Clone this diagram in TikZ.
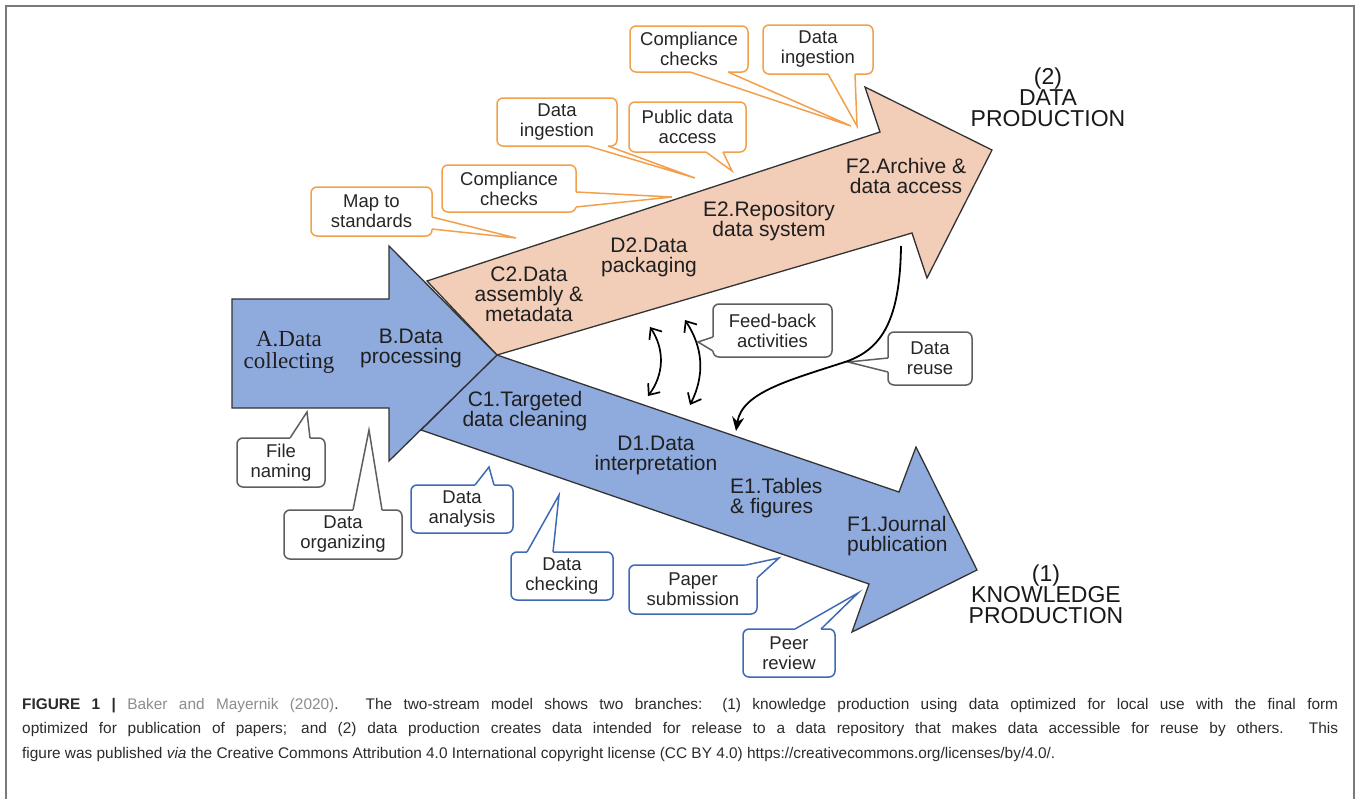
\documentclass[tikz,border=0pt]{standalone}
\usepackage{fontspec}
\setmainfont{Liberation Sans}
\newfontfamily\timesf{Liberation Serif}
\usetikzlibrary{arrows.meta,calc}
\definecolor{bandblue}{HTML}{8FAADC}
\definecolor{peach}{HTML}{F2CDB8}
\definecolor{edgec}{HTML}{333333}
\definecolor{oc}{HTML}{F2A04B}
\definecolor{bc}{HTML}{3D6AB3}
\definecolor{gc}{HTML}{5E5E5E}
\definecolor{capgray}{HTML}{8C8C8C}
\definecolor{captext}{HTML}{2B2B2B}
\definecolor{framec}{HTML}{7A7A7A}
% callout tail: colour, base1, base2, tip, inward shift
\newcommand\ctail[5]{%
  \fill[white] ($#2+#5$) -- #2 -- #4 -- #3 -- ($#3+#5$) -- cycle;
  \draw[#1, line width=1.5pt, line join=miter] #2 -- #4 -- #3;}
\begin{document}
\begin{tikzpicture}[x=1pt,y=-1pt,
  cbox/.style={draw, fill=white, rounded corners=6pt, line width=1.5pt, inner sep=0pt,
    align=center, font=\fontsize{18.5}{20}\selectfont, text=black!85},
  band/.style={align=center, font=\fontsize{21}{20}\selectfont, text=black!88, inner sep=0pt},
  outlab/.style={align=center, font=\fontsize{23}{21}\selectfont, text=black!90, inner sep=0pt},
  shapeedge/.style={draw=edgec, line width=1.3pt, line join=miter},
  fbarrow/.style={line width=1.7pt, {Straight Barb[length=9pt,width=15pt]}-{Straight Barb[length=9pt,width=15pt]}},
  reuse/.style={line width=1.8pt, -{Stealth[length=14pt,width=12pt]}}]
\useasboundingbox (0,0) rectangle (1360,798);
% frame
\draw[framec, line width=1.5pt] (6,6) rectangle (1354,810);

% data production band (peach)
\filldraw[fill=peach, shapeedge] (427,281) -- (880,132) -- (865,87) -- (992,150) -- (927,278) -- (912,233) -- (497,355) -- cycle;
% knowledge production band (blue)
\filldraw[fill=bandblue, shapeedge] (497,355) -- (899,492) -- (916,447) -- (977,570) -- (852,632) -- (869,584) -- (421,430) -- cycle;
% A-B arrow
\filldraw[fill=bandblue, shapeedge] (232,299) -- (389,299) -- (389,246) -- (497,355) -- (389,461) -- (389,408) -- (232,408) -- cycle;

% band labels
\node[inner sep=0pt, align=center, font=\timesf\fontsize{23}{22}\selectfont, text=black!88] (la) at (289,352) {A.Data\\collecting};
\node[band] (lb) at (411,348) {B.Data\\processing};
\node[band] (lc2) at (529,294) {C2.Data\\assembly \&\\metadata};
\node[band] (ld2) at (649,257) {D2.Data\\packaging};
\node[band] (le2) at (769,221) {E2.Repository\\data system};
\node[band] (lf2) at (906,176) {F2.Archive \&\\data access};
\node[band] (lc1) at (525,411) {C1.Targeted\\data cleaning};
\node[band] (ld1) at (656,455) {D1.Data\\interpretation};
\node[band, align=left, anchor=west] (le1) at (730,498) {E1.Tables\\\& figures};
\node[band, align=left, anchor=west] (lf1) at (847,536) {F1.Journal\\publication};

% outside labels
\node[outlab] (dp) at (1048,97) {(2)\\DATA\\PRODUCTION};
\node[outlab] (kp) at (1046,594) {(1)\\KNOWLEDGE\\PRODUCTION};

% orange callouts
\node[cbox, draw=oc, minimum width=118pt, minimum height=46pt] (o1) at (689,49) {Compliance\\checks};
\ctail{oc}{(690,72)}{(728,72)}{(851,126)}{(0,-3)}
\node[cbox, draw=oc, minimum width=110pt, minimum height=49pt] (o2) at (818,49.5) {Data\\ingestion};
\ctail{oc}{(828,74)}{(855,74)}{(857,126)}{(0,-3)}
\node[cbox, draw=oc, minimum width=120pt, minimum height=48pt] (o3) at (557,122) {Data\\ingestion};
\ctail{oc}{(588,146)}{(608,146)}{(695,178)}{(0,-3)}
\node[cbox, draw=oc, minimum width=117pt, minimum height=50pt] (o4) at (687.5,127) {Public data\\access};
\ctail{oc}{(706,152)}{(723,152)}{(732,171)}{(0,-3)}
\node[cbox, draw=oc, minimum width=134pt, minimum height=47pt] (o5) at (509,188.5) {Compliance\\checks};
\ctail{oc}{(576,192)}{(576,207)}{(672,197)}{(-3,0)}
\node[cbox, draw=oc, minimum width=121pt, minimum height=49pt] (o6) at (371.5,211.5) {Map to\\standards};
\ctail{oc}{(432,217)}{(432,229)}{(516,238)}{(-3,0)}

% gray callouts
\node[cbox, draw=gc, minimum width=119pt, minimum height=53pt] (g1) at (772.5,330.5) {Feed-back\\activities};
\ctail{gc}{(713,337)}{(713,351)}{(698,342)}{(3,0)}
\node[cbox, draw=gc, minimum width=84pt, minimum height=53pt] (g2) at (930,358.5) {Data\\reuse};
\ctail{gc}{(888,358)}{(888,372)}{(848,362)}{(3,0)}
\node[cbox, draw=gc, minimum width=88pt, minimum height=49pt] (g3) at (281,462.5) {File\\naming};
\ctail{gc}{(290,438)}{(310,438)}{(307,412)}{(0,3)}
\node[cbox, draw=gc, minimum width=118pt, minimum height=49pt] (g4) at (343,534.5) {Data\\organizing};
\ctail{gc}{(353,510)}{(382,510)}{(369,430)}{(0,3)}

% blue callouts
\node[cbox, draw=bc, minimum width=102pt, minimum height=48pt] (b1) at (462,509) {Data\\analysis};
\ctail{bc}{(475,485)}{(494,485)}{(489,467)}{(0,3)}
\node[cbox, draw=bc, minimum width=102pt, minimum height=48pt] (b2) at (562,576) {Data\\checking};
\ctail{bc}{(527,552)}{(553,552)}{(559,495)}{(0,3)}
\node[cbox, draw=bc, minimum width=128pt, minimum height=49pt] (b3) at (693,589.5) {Paper\\submission};
\ctail{bc}{(746,565)}{(757,578)}{(779,558)}{(-4,4)}
\node[cbox, draw=bc, minimum width=92pt, minimum height=48pt] (b4) at (789,653) {Peer\\review};
\ctail{bc}{(795,629)}{(821,629)}{(858,593)}{(0,3)}

% feed-back arrows
\coordinate (fl1) at (650,327);
\coordinate (fl2) at (648,396);
\coordinate (fr1) at (685,320);
\coordinate (fr2) at (690,405);
\draw[fbarrow] (fl1) to[bend left=35] (fl2);
\draw[fbarrow] (fr1) to[bend left=30] (fr2);

% data reuse arrow
\coordinate (dr1) at (901,246);
\coordinate (dr2) at (736,431);
\draw[reuse] (dr1) .. controls (900,320) and (882,348) .. (848,361) .. controls (790,380) and (742,392) .. (dr2);

% caption
\node[anchor=base west, inner sep=0pt, text=captext] (cap) at (22,709) {\parbox[t]{1316pt}{\fontsize{15.4}{24.5}\selectfont\hyphenpenalty=10000\relax
\textbf{FIGURE 1 |} \textcolor{capgray}{Baker and Mayernik (2020)}. The two-stream model shows two branches: (1) knowledge production using data optimized for local use with the final form\linebreak
optimized for publication of papers; and (2) data production creates data intended for release to a data repository that makes data accessible for reuse by others. This\linebreak
figure was published \textit{via} the Creative Commons Attribution 4.0 International copyright license (CC BY 4.0) https://creativecommons.org/licenses/by/4.0/.}};
\end{tikzpicture}
\end{document}
